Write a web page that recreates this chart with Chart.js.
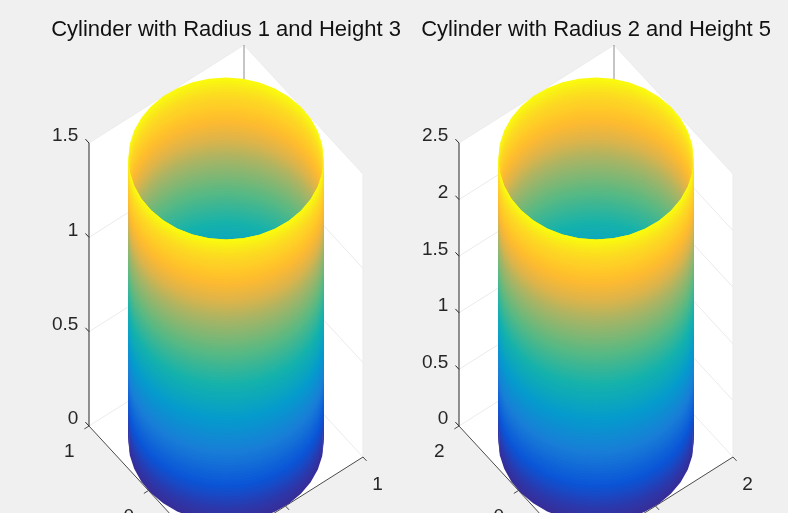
<!DOCTYPE html>
<html>
<head>
<meta charset="utf-8">
<script src="https://cdn.jsdelivr.net/npm/chart.js@4"></script>
<style>
  html, body { margin: 0; padding: 0; background: #f0f0f0; overflow: hidden; }
  canvas { position: absolute; top: 0; }
</style>
</head>
<body>
<canvas id="left" width="370" height="513" style="left:41px"></canvas>
<canvas id="right" width="370" height="513" style="left:411px"></canvas>
<script>
var titles = ['Cylinder with Radius 1 and Height 3', 'Cylinder with Radius 2 and Height 5'];
var axisLimits = [1, 2];
var cylinderHeights = [1.5, 2.5];
var zTicksLeft = [0, 0.5, 1, 1.5];
var zTicksRight = [0, 0.5, 1, 1.5, 2, 2.5];
var xyTicksLeft = [0, 1];
var xyTicksRight = [0, 2];

// fraction of the height for each ring of the surface
var levels = [0, 0.01, 0.02, 0.03, 0.04, 0.05, 0.06, 0.07, 0.08, 0.09,
  0.1, 0.11, 0.12, 0.13, 0.14, 0.15, 0.16, 0.17, 0.18, 0.19,
  0.2, 0.21, 0.22, 0.23, 0.24, 0.25, 0.26, 0.27, 0.28, 0.29,
  0.3, 0.31, 0.32, 0.33, 0.34, 0.35, 0.36, 0.37, 0.38, 0.39,
  0.4, 0.41, 0.42, 0.43, 0.44, 0.45, 0.46, 0.47, 0.48, 0.49,
  0.5, 0.51, 0.52, 0.53, 0.54, 0.55, 0.56, 0.57, 0.58, 0.59,
  0.6, 0.61, 0.62, 0.63, 0.64, 0.65, 0.66, 0.67, 0.68, 0.69,
  0.7, 0.71, 0.72, 0.73, 0.74, 0.75, 0.76, 0.77, 0.78, 0.79,
  0.8, 0.81, 0.82, 0.83, 0.84, 0.85, 0.86, 0.87, 0.88, 0.89,
  0.9, 0.91, 0.92, 0.93, 0.94, 0.95, 0.96, 0.97, 0.98, 0.99, 1];
// half of the rim in degrees, measured from the silhouette
var sweep = [0, 10, 20, 30, 40, 50, 60, 70, 80, 90, 100, 110, 120, 130, 140, 150, 160, 170, 180];

var stopAt = [0, 0.046, 0.13, 0.247, 0.364, 0.484, 0.6, 0.717, 0.78, 0.84, 0.88, 0.93, 0.97, 1];
var stopRgb = [[55, 45, 150], [45, 55, 170], [10, 85, 215], [25, 125, 215], [5, 155, 205], [20, 178, 172],
  [90, 185, 130], [170, 180, 100], [220, 180, 75], [252, 185, 50], [255, 198, 40], [253, 215, 35],
  [250, 235, 25], [250, 252, 12]];

var azimuth = -37.5;

function colorAt(t) {
  var i = 0;
  while (i < stopAt.length - 2 && t > stopAt[i + 1]) i++;
  var f = (t - stopAt[i]) / (stopAt[i + 1] - stopAt[i]);
  var c = stopRgb[i].map(function (v, k) { return Math.round(v + (stopRgb[i + 1][k] - v) * f); });
  return 'rgb(' + c.join(',') + ')';
}

function line(points, color, width) {
  return { data: points, showLine: true, borderColor: color, borderWidth: width, pointRadius: 0, fill: false };
}

function shape(points, color) {
  return { data: points, showLine: true, backgroundColor: color, borderColor: 'rgba(0,0,0,0)', borderWidth: 0,
    pointRadius: 0, fill: 'shape' };
}

function makePanel(id, title, lim, height, zTicks, xyTicks) {
  // box corners and surface go through the same view of the axes
  function view(x, y, z) {
    return {
      x: (77.5 * x - 59.5 * y) / lim,
      y: (49 * x + 64.5 * y) / lim + 283 * z / height
    };
  }

  function arc(level, dir) {
    return sweep.map(function (d) {
      var a = (azimuth + dir * d) * Math.PI / 180;
      return view(lim * Math.cos(a), lim * Math.sin(a), level * height);
    });
  }

  var gridColor = '#ebebeb';
  var axisColor = '#4a4a4a';
  var sets = [];

  // walls and floor
  sets.push(shape([view(-lim, lim, 0), view(lim, lim, 0), view(lim, lim, height), view(-lim, lim, height)], '#ffffff'));
  sets.push(shape([view(lim, lim, 0), view(lim, -lim, 0), view(lim, -lim, height), view(lim, lim, height)], '#ffffff'));
  sets.push(shape([view(-lim, lim, 0), view(lim, lim, 0), view(lim, -lim, 0), view(-lim, -lim, 0)], '#ffffff'));

  // grid
  zTicks.forEach(function (z) {
    sets.push(line([view(-lim, lim, z), view(lim, lim, z), view(lim, -lim, z)], gridColor, 1));
  });
  sets.push(line([view(0, lim, 0), view(0, lim, height)], gridColor, 1));
  sets.push(line([view(lim, 0, 0), view(lim, 0, height)], gridColor, 1));
  sets.push(line([view(0, lim, 0), view(0, -lim, 0)], gridColor, 1));
  sets.push(line([view(lim, 0, 0), view(-lim, 0, 0)], gridColor, 1));
  sets.push(line([view(lim, -lim, 0), view(lim, -lim, height)], gridColor, 1));
  sets.push(line([view(lim, lim, 0), view(lim, lim, height)], '#8c8c8c', 1));

  // axes and tick marks
  var tick = 0.06 * lim;
  sets.push(line([view(-lim, lim, 0), view(-lim, lim, height)], '#262626', 1));
  sets.push(line([view(-lim, lim, 0), view(-lim, -lim, 0), view(lim, -lim, 0)], axisColor, 1));
  zTicks.forEach(function (z) {
    sets.push(line([view(-lim, lim, z), view(-lim, lim + tick, z)], '#262626', 1));
  });
  xyTicks.forEach(function (v) {
    sets.push(line([view(-lim, v, 0), view(-lim - tick, v, 0)], axisColor, 1));
    sets.push(line([view(v, -lim, 0), view(v, -lim - tick, 0)], axisColor, 1));
  });

  // inside of the far wall first, then the near wall on top of it
  // each band also covers its neighbour, the next one paints over that part so no seams show
  var last = levels.length - 1;
  for (var i = last - 1; i >= 0; i--) {
    var mid = (levels[i] + levels[i + 1]) / 2;
    var lower = levels[Math.max(i - 1, 0)];
    sets.push(shape(arc(lower, 1).concat(arc(levels[i + 1], 1).reverse()), colorAt(mid)));
  }
  for (i = 0; i < last; i++) {
    mid = (levels[i] + levels[i + 1]) / 2;
    var upper = levels[Math.min(i + 2, last)];
    sets.push(shape(arc(levels[i], -1).concat(arc(upper, -1).reverse()), colorAt(mid)));
  }

  var tickText = {
    id: 'tickText',
    afterDraw: function (chart) {
      var c = chart.ctx, sx = chart.scales.x, sy = chart.scales.y;
      function put(p, dx, dy, text) {
        c.fillText(text, sx.getPixelForValue(p.x) + dx, sy.getPixelForValue(p.y) + dy);
      }
      c.save();
      c.font = '19px "Liberation Sans"';
      c.fillStyle = '#262626';
      c.textBaseline = 'middle';
      c.textAlign = 'right';
      zTicks.forEach(function (z) {
        put(view(-lim, lim + tick, z), -7, -3, String(z));
      });
      c.textAlign = 'center';
      xyTicks.forEach(function (v) {
        put(view(-lim - tick, v, 0), -15, 23, String(v));
        if (v === 0) return;
        put(view(v, -lim - tick, 0), 11, 24, String(v));
      });
      c.restore();
    }
  };

  return new Chart(document.getElementById(id).getContext('2d'), {
    type: 'scatter',
    data: { datasets: sets.reverse() },
    options: {
      responsive: false,
      animation: false,
      layout: { padding: 0 },
      plugins: {
        legend: { display: false },
        tooltip: { enabled: false },
        title: {
          display: true,
          text: title,
          color: '#111111',
          font: { family: '"Liberation Sans"', size: 22, weight: 'normal', lineHeight: 1 },
          padding: { top: 19, bottom: 0 }
        }
      },
      scales: {
        x: { type: 'linear', display: false, min: -185, max: 185 },
        y: { type: 'linear', display: false, min: -71.5, max: 400.5 }
      }
    },
    plugins: [tickText]
  });
}

makePanel('left', titles[0], axisLimits[0], cylinderHeights[0], zTicksLeft, xyTicksLeft);
makePanel('right', titles[1], axisLimits[1], cylinderHeights[1], zTicksRight, xyTicksRight);
</script>
</body>
</html>
